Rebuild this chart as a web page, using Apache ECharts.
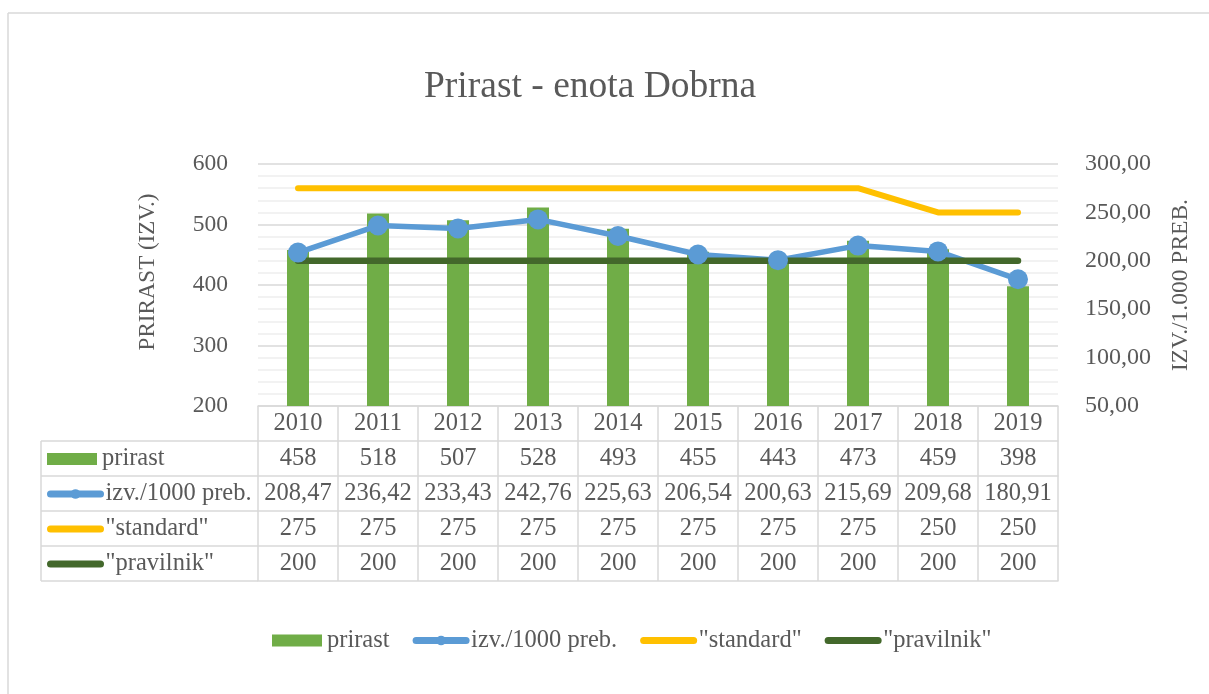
<!DOCTYPE html>
<html><head><meta charset="utf-8">
<script src="https://cdn.jsdelivr.net/npm/echarts@6/dist/echarts.min.js"></script>
<style>html,body{margin:0;padding:0;background:#fff}#c{width:1209px;height:694px}</style>
</head><body><div id="c"></div>
<script>
const years = ['2010','2011','2012','2013','2014','2015','2016','2017','2018','2019'];
const prirast = [458, 518, 507, 528, 493, 455, 443, 473, 459, 398];
const izv = [208.47, 236.42, 233.43, 242.76, 225.63, 206.54, 200.63, 215.69, 209.68, 180.91];
const standard = [275, 275, 275, 275, 275, 275, 275, 275, 250, 250];
const pravilnik = [200, 200, 200, 200, 200, 200, 200, 200, 200, 200];
const names = ['prirast', 'izv./1000 preb.', '"standard"', '"pravilnik"'];
const colors = ['#70AD47', '#5B9BD5', '#FFC000', '#43682B'];

const FONT = "'Liberation Serif', 'Times New Roman', serif";
const TXT = '#595959';
const LINE = '#d9d9d9';
const ROW = 35;
const TFS = 24.5;
const G = {left: 258, top: 164, right: 151, bottom: 288};
const W = 1209, H = 694;
const gridBottomY = H - G.bottom;
const tableLeft = 41;

function comma(v) { return v.toFixed(2).replace('.', ','); }
const rows = [prirast.map(String), izv.map(comma), standard.map(String), pravilnik.map(String)];

function tableAxis(k, labels) {
  return {
    type: 'category', data: years, gridIndex: 0, position: 'bottom', offset: ROW * k,
    boundaryGap: true,
    axisLine: {show: true, onZero: false, lineStyle: {color: LINE, width: 1.5}},
    axisTick: {show: true, length: ROW, alignWithLabel: false, interval: 0, lineStyle: {color: LINE, width: 1.5}},
    axisLabel: {show: true, interval: 0, margin: 17.5, verticalAlign: 'middle', color: TXT, fontSize: TFS, fontFamily: FONT,
      formatter: (v, idx) => labels[idx]},
    splitLine: {show: false}
  };
}
const xAxes = [tableAxis(0, years)];
rows.forEach((r, i) => xAxes.push(tableAxis(i + 1, r)));
xAxes.push({
  type: 'category', data: years, gridIndex: 0, position: 'bottom', offset: ROW * 5,
  axisLine: {show: true, onZero: false, lineStyle: {color: LINE, width: 1.5}},
  axisTick: {show: false}, axisLabel: {show: false}, splitLine: {show: false}
});

function legendItem(i) {
  if (i === 0) return {name: names[i], icon: 'rect'};
  if (i === 1) return {name: names[i]};
  return {name: names[i], itemStyle: {opacity: 0}};
}
const legendText = {color: TXT, fontSize: TFS, fontFamily: FONT};
const legendLine = {width: 7, cap: 'round'};
const legends = names.map((n, i) => ({
  data: [legendItem(i)], left: 47, top: gridBottomY + ROW * (i + 1) + ROW / 2 - 12, orient: 'vertical',
  itemWidth: 50, itemHeight: 12, itemGap: 0, padding: 0, selectedMode: false, textStyle: legendText, lineStyle: legendLine
}));
legends.push({
  data: names.map((n, i) => legendItem(i)), left: 272, top: 628, orient: 'horizontal', itemWidth: 50, itemHeight: 12, itemGap: 23,
  padding: 0, selectedMode: false, textStyle: legendText, lineStyle: legendLine
});

const graphics = [
  {type: 'line', shape: {x1: 8, y1: 13, x2: W + 10, y2: 13}, style: {stroke: LINE, lineWidth: 1.5}},
  {type: 'line', shape: {x1: 8, y1: 13, x2: 8, y2: H + 10}, style: {stroke: LINE, lineWidth: 1.5}},
  {type: 'line', shape: {x1: tableLeft, y1: gridBottomY + ROW, x2: tableLeft, y2: gridBottomY + ROW * 5}, style: {stroke: LINE, lineWidth: 1.5}},
  {type: 'text', x: 148, y: 272, rotation: Math.PI / 2,
    style: {text: 'PRIRAST (IZV.)', fontSize: 23, fontFamily: FONT, fill: TXT, align: 'center', verticalAlign: 'middle'}},
  {type: 'text', x: 1181, y: 285, rotation: Math.PI / 2,
    style: {text: 'IZV./1.000 PREB.', fontSize: 23.5, fontFamily: FONT, fill: TXT, align: 'center', verticalAlign: 'middle'}}
];
for (let k = 1; k <= 5; k++) {
  graphics.push({type: 'line', shape: {x1: tableLeft, y1: gridBottomY + ROW * k, x2: G.left, y2: gridBottomY + ROW * k},
    style: {stroke: LINE, lineWidth: 1.5}});
}

const chart = echarts.init(document.getElementById('c'), null, {renderer: 'canvas'});
chart.setOption({
  animation: false,
  backgroundColor: '#fff',
  title: {text: 'Prirast - enota Dobrna', left: 424, top: 68, padding: 0,
    textStyle: {color: TXT, fontSize: 37.5, fontWeight: 'normal', fontFamily: FONT}},
  grid: {left: G.left, right: G.right, top: G.top, bottom: G.bottom, containLabel: false, outerBoundsMode: 'none'},
  legend: legends,
  xAxis: xAxes,
  yAxis: [
    {type: 'value', min: 200, max: 600, interval: 100, position: 'left',
      axisLine: {show: false}, axisTick: {show: false},
      axisLabel: {margin: 30, color: TXT, fontSize: 23.5, fontFamily: FONT},
      splitLine: {show: true, lineStyle: {color: LINE, width: 1.5}},
      minorTick: {show: false, splitNumber: 5},
      minorSplitLine: {show: true, lineStyle: {color: '#eeeeee', width: 1.5}}},
    {type: 'value', min: 50, max: 300, interval: 50, position: 'right',
      axisLine: {show: false}, axisTick: {show: false},
      axisLabel: {margin: 27, color: TXT, fontSize: 24, fontFamily: FONT, formatter: v => comma(v)},
      splitLine: {show: false}}
  ],
  series: [
    {name: names[0], type: 'bar', data: prirast, xAxisIndex: 0, yAxisIndex: 0, barWidth: 22, clip: true,
      itemStyle: {color: colors[0]}},
    {name: names[1], type: 'line', data: izv, xAxisIndex: 0, yAxisIndex: 1, symbol: 'circle', symbolSize: 20,
      lineStyle: {color: colors[1], width: 5.5}, itemStyle: {color: colors[1]}},
    {name: names[2], type: 'line', data: standard, xAxisIndex: 0, yAxisIndex: 1, symbol: 'none',
      lineStyle: {color: colors[2], width: 6, cap: 'round', join: 'round'}, itemStyle: {color: colors[2]}},
    {name: names[3], type: 'line', data: pravilnik, xAxisIndex: 0, yAxisIndex: 1, symbol: 'none',
      lineStyle: {color: colors[3], width: 6.5, cap: 'round'}, itemStyle: {color: colors[3]}}
  ],
  graphic: graphics
});
</script>
</body></html>
